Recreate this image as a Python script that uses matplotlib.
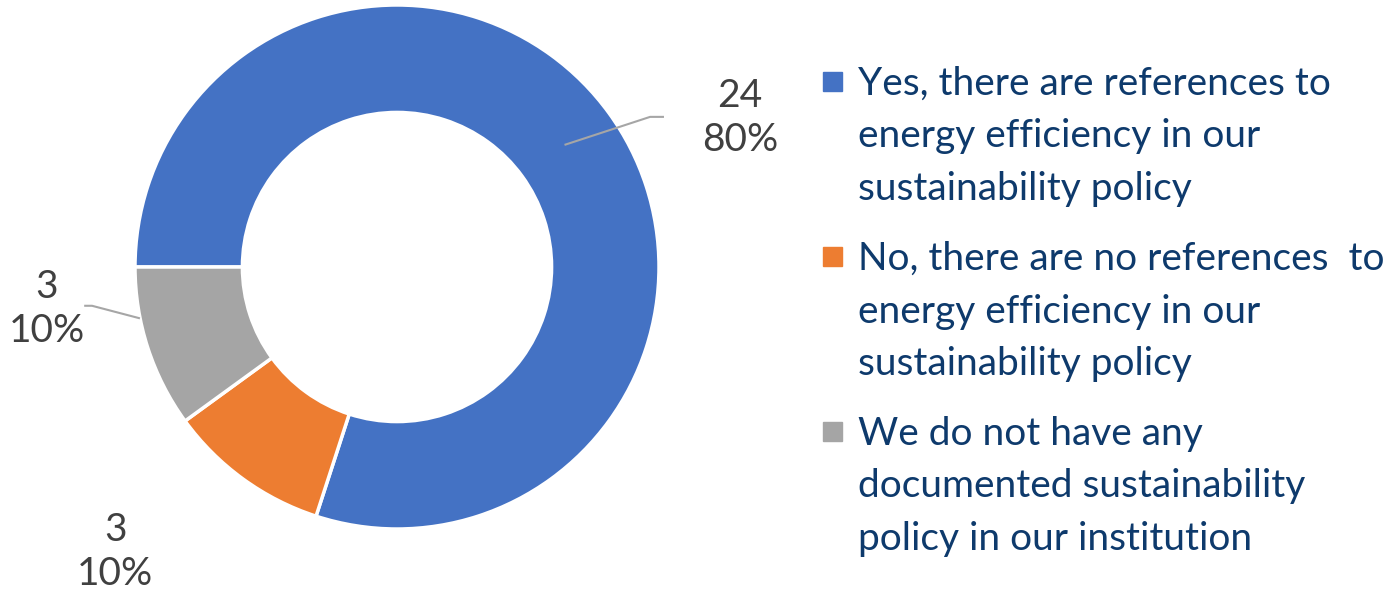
import matplotlib.pyplot as plt
from matplotlib.patches import Rectangle
import numpy as np

# data
categories = [
    "Yes, there are references to\nenergy efficiency in our\nsustainability policy",
    "No, there are no references  to\nenergy efficiency in our\nsustainability policy",
    "We do not have any\ndocumented sustainability\npolicy in our institution",
]
counts = [24, 3, 3]
colors = ["#4472C4", "#ED7D31", "#A5A5A5"]

plt.rcParams["font.family"] = ["Lato", "DejaVu Sans"]
W, H = 1397, 596
fig = plt.figure(figsize=(W / 100, H / 100), dpi=100)

# donut axes: centre (397, 267) px from top, radius 262 px
cx, cy, r = 397, 267, 262
ax = fig.add_axes([(cx - r) / W, (H - cy - r) / H, 2 * r / W, 2 * r / H])

ring = 0.41
wedges, _ = ax.pie(counts, colors=colors, startangle=180, counterclock=False,
                   radius=1, wedgeprops=dict(width=ring, edgecolor="white", linewidth=2.5))
ax.set_xlim(-1, 1)
ax.set_ylim(-1, 1)
ax.axis("off")

total = sum(counts)
labels = [f"{c}\n{round(100 * c / total)}%" for c in counts]
label_pos = [(1.309, 0.569), (-1.076, -1.088), (-1.336, -0.160)]
label_color = "#404040"
for lab, (x, y) in zip(labels, label_pos):
    ax.text(x, y, lab, ha="center", va="center", fontsize=28, color=label_color,
            linespacing=1.3, clip_on=False)

# leader lines
w0 = wedges[0]
mid = np.deg2rad((w0.theta1 + w0.theta2) / 2)
rm = 1 - ring / 2
ax.plot([rm * np.cos(mid), 0.966, 1.015], [rm * np.sin(mid), 0.573, 0.573],
        color="#A6A6A6", lw=1.5, clip_on=False)
ax.plot([-0.985, -1.164, -1.19], [-0.195, -0.148, -0.148],
        color="#A6A6A6", lw=1.5, clip_on=False)

# legend drawn by hand
text_color = "#0E3A6C"
first_baselines = [95, 270, 445]
line_step = 52.5
for lab, col, b in zip(categories, colors, first_baselines):
    sq = 19
    fig.patches.append(Rectangle(((823) / W, 1 - (b - 4) / H), sq / W, sq / H,
                                 transform=fig.transFigure, color=col))
    for i, line in enumerate(lab.split("\n")):
        fig.text(858 / W, 1 - (b + i * line_step) / H, line, ha="left",
                 va="baseline", fontsize=28, color=text_color)

fig.savefig("out.png", dpi=100)
